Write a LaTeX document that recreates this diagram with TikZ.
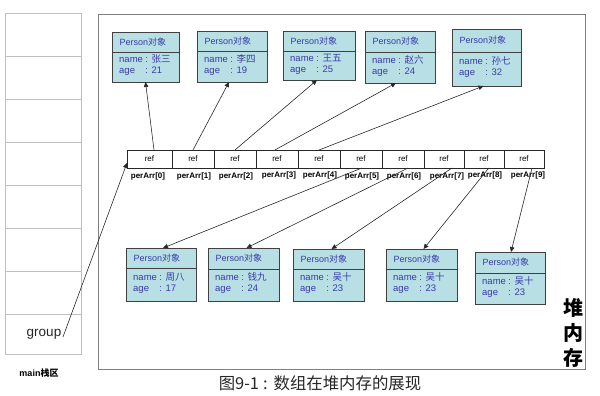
\documentclass[tikz,border=0pt]{standalone}
\usepackage{fontspec}
\setmainfont{Liberation Sans}
\newfontfamily\cjk{Noto Sans CJK SC}
\usetikzlibrary{calc,arrows.meta}
\newcommand\zh[1]{{\cjk #1}}
\definecolor{pfill}{RGB}{184,224,228}
\definecolor{ptext}{RGB}{58,58,170}
\definecolor{pborder}{RGB}{64,64,64}
\definecolor{stackgray}{RGB}{190,190,190}
\definecolor{heapgray}{RGB}{128,128,128}
\definecolor{linegray}{RGB}{40,40,40}
\tikzset{
  boxbase/.style={draw=pborder, fill=pfill, line width=0.8pt, inner sep=0pt, outer sep=0pt, anchor=north west},
  ptxt/.style={text=ptext, inner sep=0pt, anchor=west, font=\fontsize{9}{11}\selectfont},
  btxt/.style={text=ptext, inner sep=0pt, anchor=west, font=\fontsize{9.5}{11}\selectfont},
  arrcell/.style={draw=linegray, line width=0.7pt, inner sep=0pt, outer sep=0pt, minimum height=18pt, anchor=north west, font=\fontsize{8}{9}\selectfont},
  arrlab/.style={inner sep=0pt, font=\bfseries\fontsize{8}{9}\selectfont},
  arrowline/.style={draw=linegray, line width=0.6pt, -{Triangle[length=5pt,width=4.5pt]}},
  stackcell/.style={draw=stackgray, line width=0.8pt, inner sep=0pt, outer sep=0pt, minimum width=76pt, anchor=north west},
}
% id, x1, ytop, ymid, x2, ybottom, name, age
\newcommand\personbox[8]{%
  \node[boxbase, minimum width={#5-#2}, minimum height={#4-#3}] (t#1) at (#2,#3) {};
  \node[ptxt] (t#1txt) at ($(t#1.west)+(7.5,0)$) {Person\zh{对象}};
  \node[boxbase, minimum width={#5-#2}, minimum height={#6-#4}] (b#1) at (#2,#4) {};
  \node[btxt] (b#1txt) at ($(b#1.west)+(7,-1)$) {\begin{tabular}{@{}l@{}l@{}}name & \hspace{2.5pt}:\hspace{3.5pt}\zh{#7}\\ age & \hspace{2.5pt}:\hspace{3.5pt}#8\end{tabular}};
}
\begin{document}
\begin{tikzpicture}[x=1pt,y=-1pt]
\useasboundingbox (0,0) rectangle (600,396);
% stack
\node[stackcell, minimum height=43pt] (s1) at (5,13) {};
\node[stackcell, minimum height=43pt] (s2) at (5,56) {};
\node[stackcell, minimum height=43pt] (s3) at (5,99) {};
\node[stackcell, minimum height=43pt] (s4) at (5,142) {};
\node[stackcell, minimum height=43pt] (s5) at (5,185) {};
\node[stackcell, minimum height=43pt] (s6) at (5,228) {};
\node[stackcell, minimum height=43pt] (s7) at (5,271) {};
\node[stackcell, minimum height=40pt] (s8) at (5,314) {};
\node[inner sep=0pt, text=black!85, font=\fontsize{13.5}{15}\selectfont] (grp) at (44,334) {group};
\node[inner sep=0pt, font=\bfseries\fontsize{9}{10}\selectfont] (mainlbl) at (39,373) {main\zh{栈区}};
% heap
\node[draw=heapgray, line width=1pt, inner sep=0pt, outer sep=0pt, minimum width=487pt, minimum height=354pt, anchor=north west] (heap) at (98,15) {};
\node[inner sep=0pt, align=center, font={\cjk\bfseries\fontsize{20}{25}\selectfont}] (heaplbl) at (573,333) {堆\\内\\存};
% person boxes (top)
\personbox{1}{112}{32}{52}{179}{82}{张三}{21}
\personbox{2}{197}{31}{51}{267}{82}{李四}{19}
\personbox{3}{283}{31}{51}{355}{80}{王五}{25}
\personbox{4}{365}{31}{52}{435}{83}{赵六}{24}
\personbox{5}{452}{29}{52}{521}{86}{孙七}{32}
% person boxes (bottom)
\personbox{6}{126}{248}{268}{196}{301}{周八}{17}
\personbox{7}{208}{248}{269}{279}{301}{钱九}{24}
\personbox{8}{293}{249}{269}{364}{301}{吴十}{23}
\personbox{9}{386}{249}{269}{457}{301}{吴十}{23}
\personbox{10}{475}{252}{273}{545}{304}{吴十}{23}
% array
\node[arrcell, minimum width=45pt] (c0) at (127,150) {ref};
\node[arrcell, minimum width=42pt] (c1) at (172,150) {ref};
\node[arrcell, minimum width=42pt] (c2) at (214,150) {ref};
\node[arrcell, minimum width=42pt] (c3) at (256,150) {ref};
\node[arrcell, minimum width=42pt] (c4) at (298,150) {ref};
\node[arrcell, minimum width=42pt] (c5) at (340,150) {ref};
\node[arrcell, minimum width=42pt] (c6) at (382,150) {ref};
\node[arrcell, minimum width=40pt] (c7) at (424,150) {ref};
\node[arrcell, minimum width=40pt] (c8) at (464,150) {ref};
\node[arrcell, minimum width=40pt] (c9) at (504,150) {ref};
\node[arrlab] (l0) at (148,176) {perArr[0]};
\node[arrlab] (l1) at (194,176) {perArr[1]};
\node[arrlab] (l2) at (236,176) {perArr[2]};
\node[arrlab] (l3) at (279,175) {perArr[3]};
\node[arrlab] (l4) at (320,175) {perArr[4]};
\node[arrlab] (l5) at (362,176) {perArr[5]};
\node[arrlab] (l6) at (404,176) {perArr[6]};
\node[arrlab] (l7) at (447,176) {perArr[7]};
\node[arrlab] (l8) at (485,175) {perArr[8]};
\node[arrlab] (l9) at (528,175) {perArr[9]};
% caption
\node[inner sep=0pt, font={\cjk\fontsize{16.4}{18}\selectfont}, text=black!85] (cap) at (320,383) {图9-1\hspace{4pt}:\hspace{6pt}数组在堆内存的展现};
% arrows up
\draw[arrowline] ($(c0.north west)!0.6!(c0.north east)$) -- (b1.south);
\draw[arrowline] (c1.north) -- ($(b2.south)+(-3,0)$);
\draw[arrowline] (c2.north) -- ($(b3.south)+(-2,0)$);
\draw[arrowline] ($(c3.north west)!0.45!(c3.north east)$) -- ($(b4.south)+(-4,0)$);
\draw[arrowline] (c4.north) -- ($(b5.south)+(-3,0)$);
% arrows down
\draw[arrowline] ($(c5.south west)!0.52!(c5.south east)$) -- ($(t6.north)+(2,0)$);
\draw[arrowline] ($(c6.south west)!0.62!(c6.south east)$) -- ($(t7.north)+(3,0)$);
\draw[arrowline] ($(c7.south west)!0.7!(c7.south east)$) -- ($(t8.north)+(3,0)$);
\draw[arrowline] ($(c8.south west)!0.62!(c8.south east)$) -- ($(t9.north)+(2,0)$);
\draw[arrowline] ($(c9.south west)!0.7!(c9.south east)$) -- ($(t10.north)+(1,0)$);
% group pointer
\draw[arrowline] ($(grp.east)+(1.5,3)$) -- ($(c0.south west)!0.28!(c0.north west)$);
\end{tikzpicture}
\end{document}
